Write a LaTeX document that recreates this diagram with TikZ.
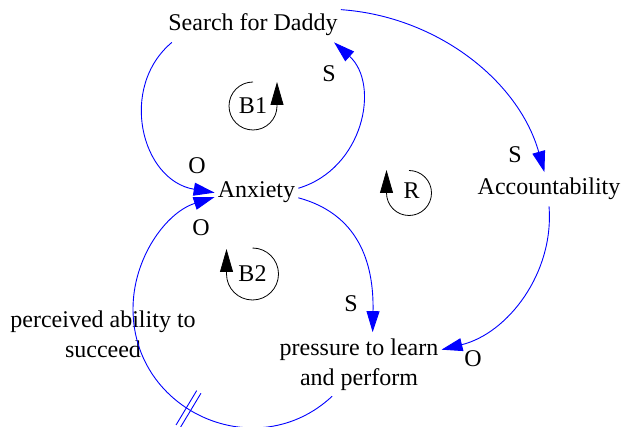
\documentclass[tikz,border=0pt]{standalone}
\usepackage{fontspec}
\setmainfont{Liberation Serif}
\usetikzlibrary{arrows.meta,positioning}
\definecolor{linkblue}{RGB}{0,0,255}
\tikzset{
  var/.style={font=\fontsize{24}{30}\selectfont,align=center,inner xsep=3pt,inner ysep=6pt},
  pol/.style={font=\fontsize{24}{30}\selectfont,inner sep=0pt},
  lnk/.style={linkblue,line width=0.9pt,-{Triangle[length=21pt,width=13pt]}},
  delay/.style={linkblue,line width=0.9pt}
}
\begin{document}
\begin{tikzpicture}[x=1pt,y=1pt,
 loopar/.style={black,line width=0.8pt,-{Triangle[length=23pt,width=13pt]}}]
\useasboundingbox (0,0) rectangle (623,-427);
\node[var,anchor=base] (sfd) at (253,-31) {Search for Daddy};
\node[var,anchor=base] (anx) at (256.5,-198) {Anxiety};
\node[var,anchor=base] (acc) at (549,-195) {Accountability};
\node[var,anchor=base] (pre) at (359,-385) {pressure to learn\\and perform};
\node[var,anchor=base] (pas) at (103,-357) {perceived ability to\\succeed};
\draw[lnk] (sfd.192) .. controls (118.3,-87.2) and (141.1,-180.5) .. (anx.west);
\draw[lnk] (anx.6) .. controls (363.7,-168.7) and (380.4,-84.2) .. (sfd.-12);
\draw[lnk] (sfd.10) .. controls (436.3,-16.2) and (518.4,-80.2) .. (acc.105);
\draw[lnk] (acc.south) .. controls (554.3,-273.3) and (507.6,-333.4) .. (pre.10);
\draw[lnk] (anx.-7) .. controls (358,-214) and (374,-262) .. (pre.67);
\draw[lnk] (pre.230) .. controls (256.9,-466.5) and (133,-412.1) .. (133,-309)
  .. controls (133,-257.8) and (166.1,-212.5) .. (anx.186);
\coordinate (dly) at (188.5,-409.1);
\begin{scope}[shift={(dly)},rotate=-31]
\draw[delay] (-2.5,-20) -- (-2.5,20) (2.5,-20) -- (2.5,20);
\end{scope}
\node[pol] (s1) at (329,-74) {S};
\node[pol] (s2) at (515,-155) {S};
\node[pol] (s3) at (351,-304) {S};
\node[pol] (o1) at (197,-166) {O};
\node[pol] (o2) at (201,-228) {O};
\node[pol] (o3) at (473,-359) {O};
\node[pol] (b1) at (253,-106) {B1};
\draw[loopar] (253,-82) arc[start angle=90,end angle=360,radius=24] -- ++(0,24);
\node[pol] (b2) at (252.5,-274) {B2};
\draw[loopar] (252.5,-248) arc[start angle=90,end angle=-180,radius=26] -- ++(0,25);
\node[pol] (loopr) at (411.5,-191) {R};
\draw[loopar] (409,-170.5) arc[start angle=90,end angle=-180,radius=22.5] -- ++(0,23);
\end{tikzpicture}
\end{document}
